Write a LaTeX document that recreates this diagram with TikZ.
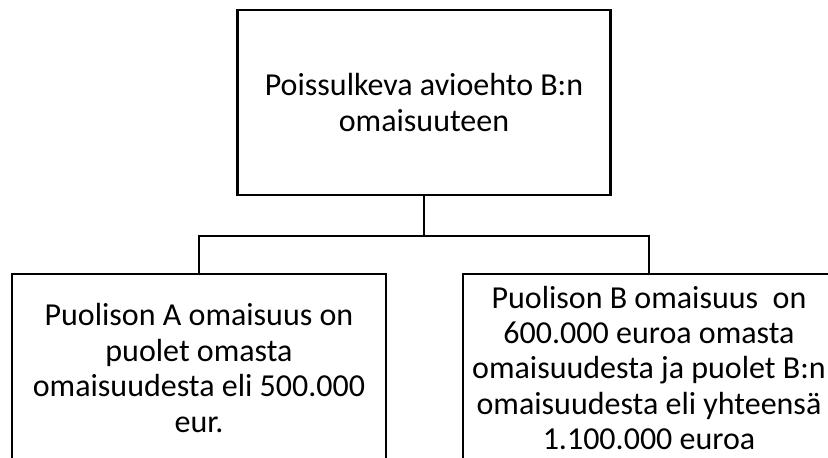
\documentclass[tikz,border=0pt]{standalone}
\usepackage{fontspec}
\setmainfont{Carlito}
\begin{document}
\begin{tikzpicture}[x=1pt,y=-1pt,
  box/.style={draw=black,line width=2.4pt,rectangle,align=center,inner sep=0pt,
    font=\fontsize{32}{35.4}\selectfont},
  conn/.style={draw=black,line width=2.4pt}]
\useasboundingbox (0,0) rectangle (828,458);
\fill[white] (0,0) rectangle (828,458);
\clip (0,0) rectangle (828,458);
\node[box,minimum width=373pt,minimum height=185pt] (top) at (424,102.5)
  {Poissulkeva avioehto B:n\\omaisuuteen};
\node[box,minimum width=374pt,minimum height=188pt] (left) at (199,368)
  {Puolison A omaisuus on\\puolet omasta\\omaisuudesta eli 500.000\\eur.};
\node[box,minimum width=372pt,minimum height=188pt] (right) at (649,368)
  {Puolison B omaisuus\ \ on\\600.000 euroa omasta\\omaisuudesta ja puolet B:n\\omaisuudesta eli yhteensä\\1.100.000 euroa};
\coordinate (mid) at ([yshift=-40pt]top.south);
\draw[conn] (top.south) -- (mid);
\draw[conn] (mid) -| (left.north);
\draw[conn] (mid) -| (right.north);
\end{tikzpicture}
\end{document}
